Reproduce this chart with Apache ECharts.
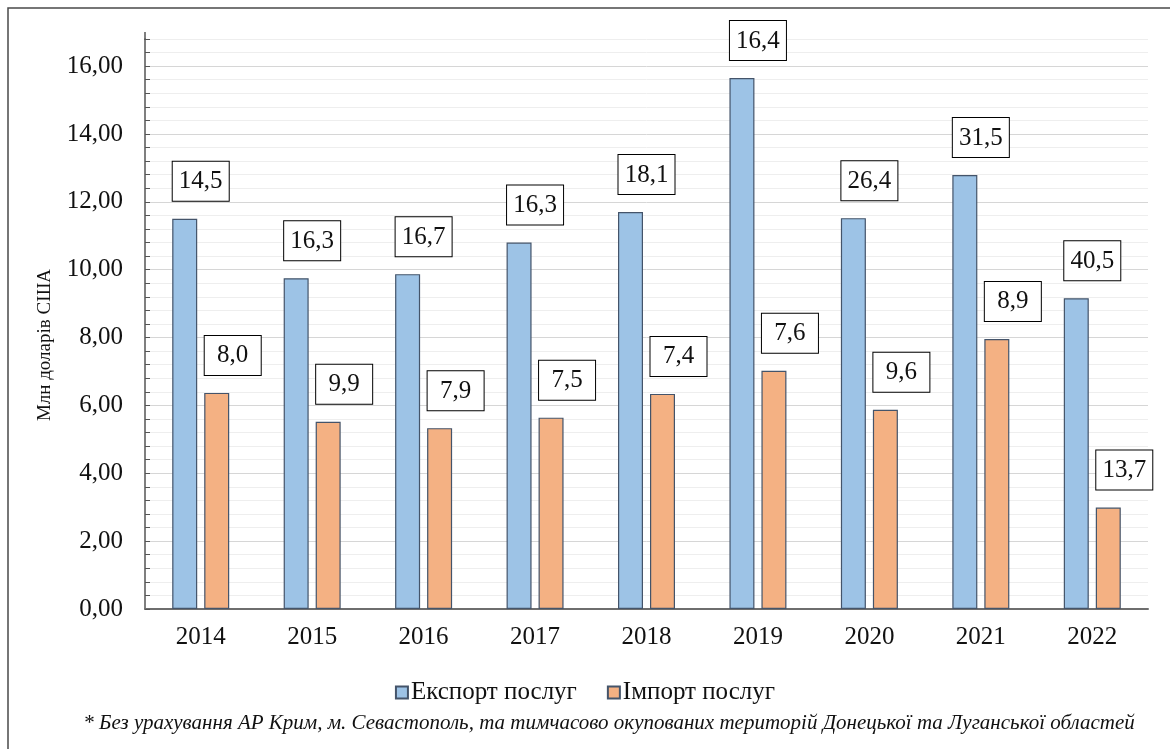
<!DOCTYPE html>
<html>
<head>
<meta charset="utf-8">
<script src="https://cdn.jsdelivr.net/npm/echarts@6/dist/echarts.min.js"></script>
<style>
html,body{margin:0;padding:0;background:#fff;}
#chart{width:1170px;height:749px;}
</style>
</head>
<body>
<div id="chart"></div>
<script>
const categories = ['2014','2015','2016','2017','2018','2019','2020','2021','2022'];
const exportValues = [11.5, 9.75, 9.87, 10.8, 11.7, 15.65, 11.52, 12.79, 9.16];
const importValues = [6.37, 5.52, 5.33, 5.64, 6.34, 7.02, 5.87, 7.96, 2.99];
const exportLabels = ['14,5','16,3','16,7','16,3','18,1','16,4','26,4','31,5','40,5'];
const importLabels = ['8,0','9,9','7,9','7,5','7,4','7,6','9,6','8,9','13,7'];
const seriesNames = ['Експорт послуг', 'Імпорт послуг'];
const yAxisTitle = 'Млн доларів США';
const footnote = '* Без урахування АР Крим, м. Севастополь, та тимчасово окупованих територій Донецької та Луганської областей';

const FONT = 'Liberation Serif';
const chart = echarts.init(document.getElementById('chart'));

function boxLabel(labels) {
  return {
    show: true,
    position: 'top',
    distance: 18,
    offset: [16, 0],
    formatter: p => '{v|' + labels[p.dataIndex] + '}',
    backgroundColor: '#fff',
    borderColor: '#000',
    borderWidth: 1,
    padding: [7, 7, 6, 7],
    fontFamily: FONT,
    rich: {
      v: { width: 42, align: 'center', fontSize: 25, fontFamily: FONT, color: '#111', lineHeight: 26 }
    }
  };
}

const option = {
  backgroundColor: '#fff',
  animation: false,
  textStyle: { fontFamily: FONT },
  graphic: [
    { type: 'rect', shape: { x: 8, y: 8, width: 1180, height: 780 },
      style: { fill: 'none', stroke: '#4a4a4a', lineWidth: 1.5 }, silent: true },
    { type: 'line', shape: { x1: 145, y1: 32, x2: 145, y2: 40 },
      style: { stroke: '#555', lineWidth: 1.5 }, silent: true },
    { type: 'text', x: 45, y: 345, rotation: Math.PI / 2,
      style: { text: yAxisTitle, fontSize: 19, fontFamily: FONT, fill: '#111', align: 'center', verticalAlign: 'middle' } },
    { type: 'text', x: 609, y: 723,
      style: { text: footnote, fontSize: 21, fontStyle: 'italic', fontFamily: FONT, fill: '#111', align: 'center', verticalAlign: 'middle' } }
  ],
  legend: {
    left: 'center',
    top: 675,
    itemWidth: 12,
    itemHeight: 12,
    itemGap: 30,
    icon: 'rect',
    textStyle: { fontFamily: FONT, fontSize: 25, color: '#111', padding: [0, 0, 0, -2] },
    data: seriesNames
  },
  grid: { left: 145, right: 22, top: 39, bottom: 140 },
  xAxis: {
    type: 'category',
    data: categories,
    axisLine: { lineStyle: { color: '#6e6e6e', width: 2 } },
    axisTick: { show: false },
    axisLabel: { fontFamily: FONT, fontSize: 25, color: '#111', margin: 16 }
  },
  yAxis: {
    type: 'value',
    min: 0,
    max: 16.8,
    interval: 0.4,
    axisLine: { show: true, lineStyle: { color: '#555', width: 1.5 } },
    axisTick: { show: true, inside: true, length: 5, lineStyle: { color: '#555' } },
    axisLabel: {
      fontFamily: FONT, fontSize: 25, color: '#111', margin: 22,
      formatter: v => {
        const r = v / 2;
        return Math.abs(r - Math.round(r)) < 1e-6 ? v.toFixed(2).replace('.', ',') : '';
      }
    },
    splitLine: { show: true, lineStyle: { color: ['#d6d6d6', '#eeeeee', '#eeeeee', '#eeeeee', '#eeeeee'], width: 1 } }
  },
  series: [
    {
      name: seriesNames[0], type: 'bar', data: exportValues,
      barWidth: 25, barGap: '28%',
      itemStyle: { color: '#9dc3e6', borderColor: '#44546a', borderWidth: 1.2 },
      label: boxLabel(exportLabels)
    },
    {
      name: seriesNames[1], type: 'bar', data: importValues,
      barWidth: 25, barGap: '28%',
      itemStyle: { color: '#f4b183', borderColor: '#44546a', borderWidth: 1.2 },
      label: boxLabel(importLabels)
    }
  ]
};
chart.setOption(option);
</script>
</body>
</html>
